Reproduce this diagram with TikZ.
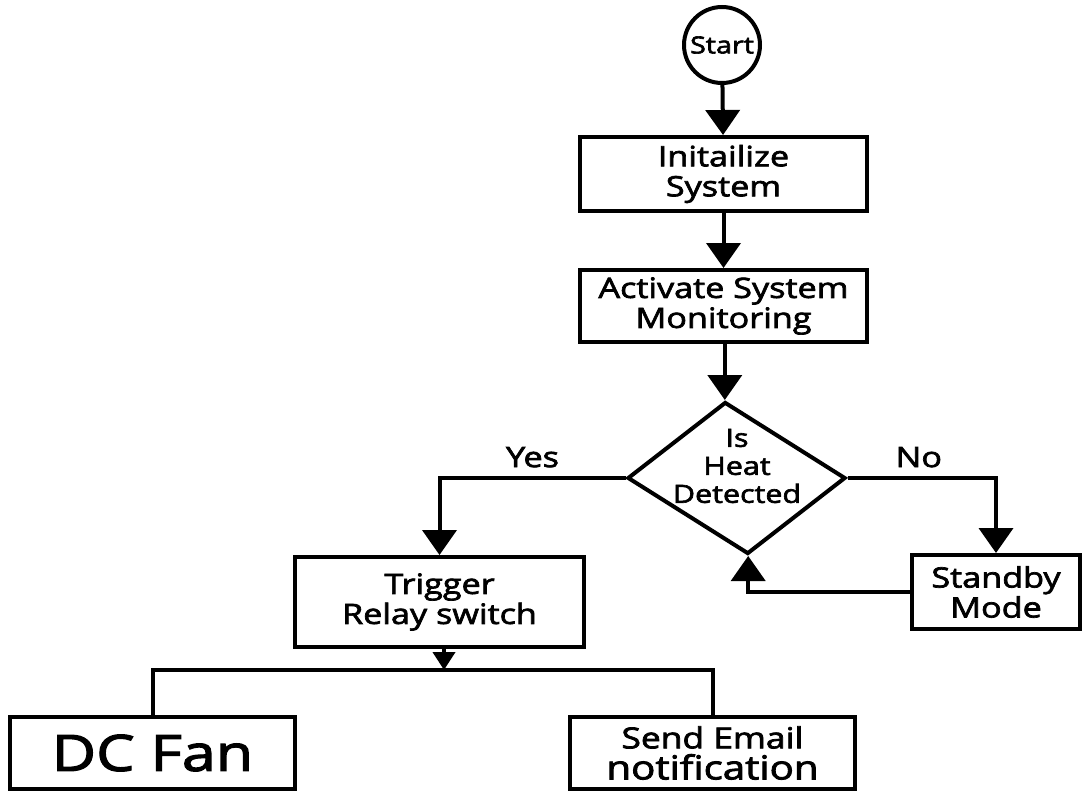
\documentclass[tikz,border=0pt]{standalone}
\usepackage{fontspec}
\setmainfont{Open Sans}[FakeStretch=1.22,FakeBold=2.5]
\usetikzlibrary{shapes.geometric}
\usetikzlibrary{arrows.meta,positioning}

\begin{document}
\begin{tikzpicture}[x=0.5pt,y=-0.5pt,line width=2pt,
        arr/.style={-{Triangle[width=17pt,length=12.5pt]}},
        txt/.style={font=\fontsize{14pt}{15pt}\selectfont,align=center}]%
        \useasboundingbox (0,0) rectangle (1082,797);%
        \begin{scope}
            \tikzstyle{every node}=[draw,rectangle,txt,inner sep=0pt];%%
            \node[circle,minimum size=38pt,font=\fontsize{11.8pt}{12pt}\selectfont] (start) at (722,45) {Start}; %%
            \node[minimum width=143.5pt,minimum height=37pt] (init) at (723.5,174) {Initailize\\System}; %%
            \node[minimum width=143.5pt,minimum height=36pt] (act) at (723.5,306) {Activate System\\Monitoring}; %%
            \node[diamond,xslant=-0.15,minimum width=109pt,minimum height=76pt] (dec) at (736.5,478) {}; %%
            \node[draw=none,font=\fontsize{12.5pt}{14pt}\selectfont] (dectxt) at (737,466) {Is\\Heat\\Detected}; %%
            \node[minimum width=144.5pt,minimum height=45pt] (trg) at (439.5,602) {Trigger\\Relay switch}; %%
            \node[minimum width=84pt,minimum height=37pt] (stb) at (996,592) {Standby\\Mode}; %%
            \node[minimum width=142.5pt,minimum height=36pt,font=\fontsize{25pt}{25pt}\selectfont] (fan) at (152.5,753) {DC Fan}; %%
            \node[minimum width=142.5pt,minimum height=36pt,font=\fontsize{14.5pt}{15.5pt}\selectfont] (mail) at (712.5,753) {Send Email\\{\fontsize{16.5pt}{15.5pt}\selectfont notification}}; %%
        \end{scope}
        \coordinate (split) at (444,670); %%
        \draw[arr] (start)--(init); %%
        \draw[arr] (init)--(act); %%
        \draw[arr] (act.south -| dec.north)--(dec.north); %%
        \draw[arr] (dec.west) -| node[pos=0.25,above=1pt,txt] (yes) {Yes} (trg.north); %%
        \draw[arr] (dec.east) -| node[pos=0.24,above=1pt,txt] (no) {No} (stb.north); %%
        \draw[arr] (stb.west) -| (dec.south); %%
        \draw[-{Triangle[width=11pt,length=9pt]}] (trg.south -| split)--(split); %%
        \draw (fan.north) |- (split) -| (mail.north); %%
        \end{tikzpicture}
\end{document}
